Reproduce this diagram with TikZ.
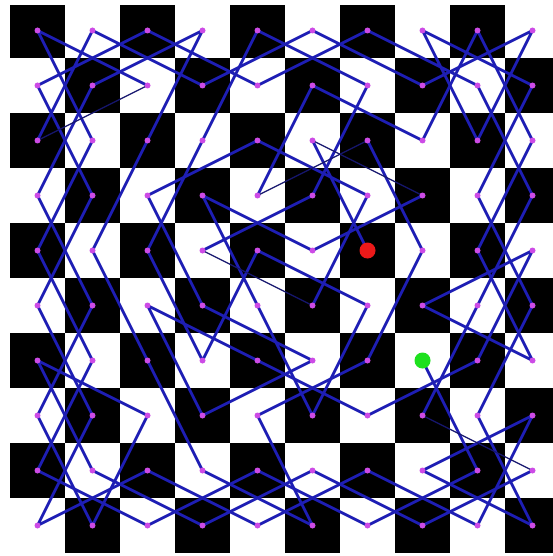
\documentclass[tikz,border=0pt]{standalone}
\definecolor{tourc}{RGB}{30,30,180}
\definecolor{tourthin}{RGB}{22,22,110}
\definecolor{dotc}{RGB}{205,75,230}
\definecolor{startc}{RGB}{235,25,25}
\definecolor{endc}{RGB}{30,225,30}
\tikzset{
  tourline/.style={draw=tourc,line width=2.8pt,line join=round,line cap=round},
  thinline/.style={draw=tourthin,line width=1.3pt,line cap=round},
  dotnode/.style={circle,fill=dotc,inner sep=0pt,minimum size=6pt},
  startdot/.style={circle,fill=startc,inner sep=0pt,minimum size=16pt},
  enddot/.style={circle,fill=endc,inner sep=0pt,minimum size=16pt}
}
\begin{document}
\begin{tikzpicture}[x=1pt,y=-1pt]
\useasboundingbox (0,0) rectangle (553,556);
\fill[white] (0,0) rectangle (553,556);
% board
\begin{scope}
\clip (10,6) rectangle (553,553);
\foreach \c in {0,...,9}{
  \foreach \r in {0,...,9}{
    \pgfmathtruncatemacro\parity{mod(\c+\r,2)}
    \ifnum\parity=0
      \fill[black] ({10+55*\c},{3+55*\r}) rectangle ++(55,55);
    \fi
  }
}
\end{scope}
% square centres
\foreach \c in {0,...,9}{
  \foreach \r in {0,...,9}{
    \coordinate (p\c\r) at ({37.5+55*\c},{30.5+55*\r});
  }
}
% the tour
\draw[tourline] (p64)--(p52);
\draw[tourline] (p73)--(p54)--(p33)--(p45)--(p57)--(p65)--(p44)--(p36)--(p24)--(p32)--(p40)--(p61)--(p53)--(p34);
\draw[tourline] (p55)--(p63)--(p42)--(p23)--(p35)--(p56)--(p37)--(p25)--(p46)--(p67)--(p86)--(p94)--(p75)--(p96)--(p84)--(p92)--(p80)--(p72)--(p51)--(p43);
\draw[tourline] (p62)--(p74)--(p66)--(p47)--(p59)--(p38)--(p26)--(p14)--(p22)--(p30)--(p11)--(p03)--(p15)--(p07)--(p19)--(p27)--(p06)--(p18)--(p39)--(p58)--(p79)--(p98);
\draw[tourline] (p77)--(p85)--(p93)--(p81)--(p60)--(p41)--(p20)--(p01)--(p13)--(p05)--(p17)--(p09)--(p28)--(p49)--(p68)--(p89)--(p97)--(p78)--(p99)--(p87)--(p95)--(p83)--(p91)--(p70)--(p82)--(p90)--(p71)--(p50)--(p31)--(p10)--(p02);
\draw[tourline] (p21)--(p00)--(p12)--(p04)--(p16)--(p08)--(p29)--(p48)--(p69)--(p88)--(p76);
\draw[thinline] (p52)--(p73);
\draw[thinline] (p34)--(p55);
\draw[thinline] (p43)--(p62);
\draw[thinline] (p98)--(p77);
\draw[thinline] (p02)--(p21);
% dots
\foreach \c in {0,...,9}{
  \foreach \r in {0,...,9}{
    \node[dotnode] (d\c\r) at (p\c\r) {};
  }
}
\node[startdot] (start) at (p64) {};
\node[enddot] (finish) at (p76) {};
\end{tikzpicture}
\end{document}
